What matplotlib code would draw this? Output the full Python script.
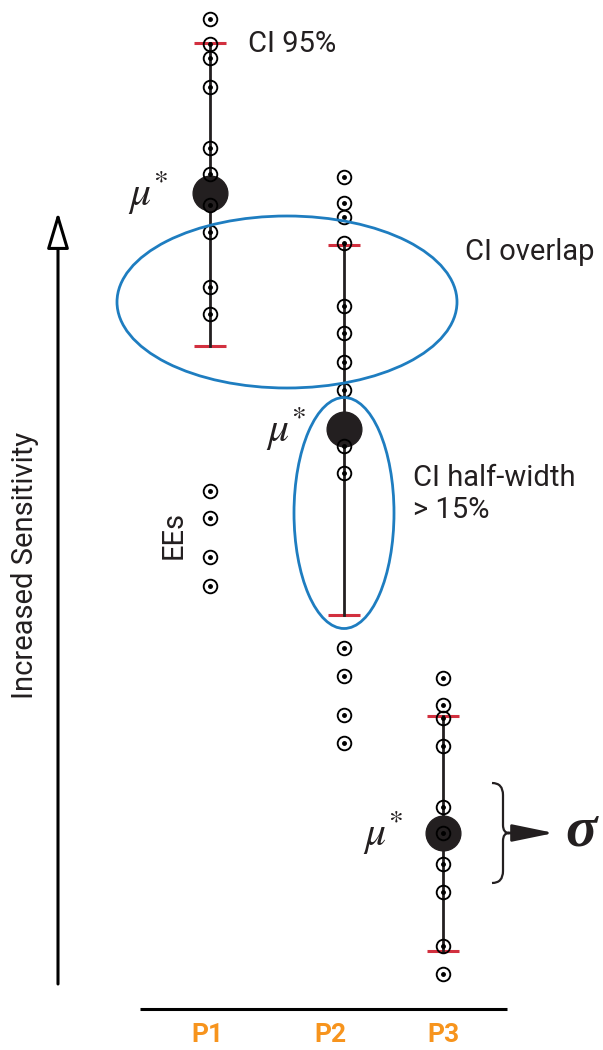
import numpy as np
import matplotlib
matplotlib.use('Agg')
import matplotlib.pyplot as plt
from matplotlib.patches import Ellipse, PathPatch
from matplotlib.path import Path

plt.rcParams['font.family'] = ['Roboto', 'DejaVu Sans']
plt.rcParams['mathtext.fontset'] = 'stix'

'~~~~~~~~~~ DATA (sensitivity units, read off the picture) ~~~~~~~~~~'
params = ['P1', 'P2', 'P3']
param_x = [210, 344, 443]
label_x = [207, 330, 443]

ee_p1 = [1031, 1006, 992, 963, 902, 876, 845, 818, 763, 736]
ee_p2 = [873, 847, 833, 807, 744, 717, 688, 660, 604, 577, 402, 374, 335, 307]
ee_p3 = [372, 345, 332, 304, 243, 217, 186, 158, 104, 76]
ees = [ee_p1, ee_p2, ee_p3]

mu_star = [857, 621, 217]
ci_low = [704, 435, 99]
ci_high = [1007, 805, 334]

# extra EEs drawn under P1 as a legend
ee_legend = [559, 532, 493, 464]

ink = '#231f20'
red = '#d2303f'
blue = '#1e7dc0'
orange = '#f7941d'

fig = plt.figure(figsize=(6.03, 10.5), dpi=100)
ax = fig.add_axes([0, 0, 1, 1])
ax.set_xlim(0, 603)
ax.set_ylim(0, 1050)
ax.axis('off')

'------------------ CI LINES, MU*, EEs ------------------'
for i in range(3):
    x = param_x[i]
    ax.plot([x, x], [ci_low[i], ci_high[i]], color=ink, lw=2.0, zorder=2)
    for y in (ci_low[i], ci_high[i]):
        ax.plot([x - 16, x + 16], [y, y], color=red, lw=2.2, zorder=1, solid_capstyle='butt')
    ax.plot(x, mu_star[i], 'o', ms=25, color=ink, zorder=3)
    xs = np.full(len(ees[i]), x)
    ax.plot(xs, ees[i], 'o', ms=9.8, mfc='none', mec='black', mew=1.35, zorder=4)
    ax.plot(xs, ees[i], 'o', ms=2.5, color='black', zorder=5)

xs = np.full(len(ee_legend), param_x[0])
ax.plot(xs, ee_legend, 'o', ms=9.8, mfc='none', mec='black', mew=1.35, zorder=4)
ax.plot(xs, ee_legend, 'o', ms=2.5, color='black', zorder=5)

'------------------ ELLIPSES ------------------'
ax.add_patch(Ellipse((287, 748), 340, 172, fill=False, ec=blue, lw=2.0, zorder=6))
ax.add_patch(Ellipse((344, 537), 100, 231, fill=False, ec=blue, lw=2.0, zorder=6))

'------------------ TEXT ------------------'
fs = 21
ax.text(248, 1006, 'CI 95%', fontsize=fs, color=ink, va='center', ha='left')
ax.text(465, 798, 'CI overlap', fontsize=fs, color=ink, va='center', ha='left')
ax.text(413, 572, 'CI half-width', fontsize=fs, color=ink, va='center', ha='left')
ax.text(413, 540, '> 15%', fontsize=fs, color=ink, va='center', ha='left')
ax.text(174, 515, 'EEs', fontsize=fs, color=ink, rotation=90, va='center', ha='center')
ax.text(25, 485, 'Increased Sensitivity', fontsize=fs, color=ink, rotation=90,
        va='center', ha='center')

mu_x = [148, 286, 383]
for i in range(3):
    ax.text(mu_x[i], mu_star[i], r'$\mu^{*}$', fontsize=30, color=ink, ha='center', va='center')

# sigma with brace and arrow
ax.text(581, mu_star[2] + 2, 'σ', fontsize=42, family='Liberation Serif', style='italic',
        weight='bold', color=ink, ha='center', va='center')
yc = mu_star[2]
brace = Path([(492, yc + 50), (503, yc + 50), (503, yc + 38), (503, yc + 8),
              (503, yc), (509, yc), (503, yc), (503, yc - 8), (503, yc - 38),
              (503, yc - 50), (492, yc - 50)],
             [Path.MOVETO, Path.CURVE3, Path.CURVE3, Path.LINETO,
              Path.CURVE3, Path.CURVE3, Path.CURVE3, Path.CURVE3, Path.LINETO,
              Path.CURVE3, Path.CURVE3])
ax.add_patch(PathPatch(brace, fill=False, ec=ink, lw=1.6))
ax.annotate('', xy=(554, yc), xytext=(508, yc),
            arrowprops=dict(arrowstyle='-|>,head_length=1.6,head_width=0.33',
                            mutation_scale=16, color=ink, lw=2, shrinkA=0, shrinkB=0))

# sensitivity arrow
ax.annotate('', xy=(58, 838), xytext=(58, 66),
            arrowprops=dict(arrowstyle='-|>,head_length=1.4,head_width=0.42',
                            mutation_scale=16, fc='white', ec='black', lw=2.2,
                            shrinkA=0, shrinkB=0))

'------------------ BOTTOM AXIS ------------------'
ax.plot([140, 507], [41, 41], color='black', lw=2.2, solid_capstyle='butt')
for i in range(3):
    ax.text(label_x[i], 15, params[i], fontsize=19, weight='bold', color=orange,
            ha='center', va='center')

plt.savefig('out.png', dpi=100)
